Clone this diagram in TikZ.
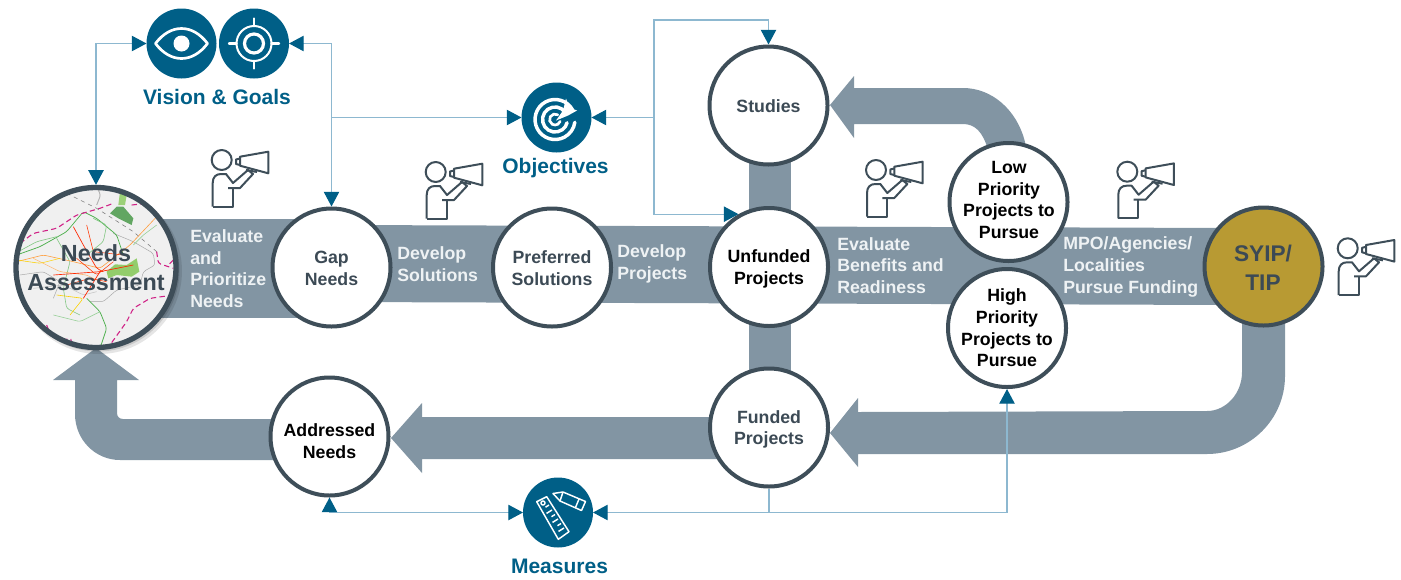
\documentclass[tikz,border=0pt]{standalone}
\usepackage{fontspec}
\setmainfont{Liberation Sans}
\usetikzlibrary{arrows.meta,backgrounds}
\definecolor{bandc}{HTML}{8295A3}
\definecolor{rimc}{HTML}{3E4E59}
\definecolor{bluec}{HTML}{005F87}
\definecolor{linec}{HTML}{8DB8D0}
\definecolor{goldc}{HTML}{B89A33}
\definecolor{darkt}{HTML}{3C4A55}
\definecolor{bandt}{HTML}{EEF2F4}
\tikzset{
  x=0.75pt,y=-0.75pt,
  hub/.style={circle,draw=rimc,line width=3pt,fill=white,minimum size=88.5pt,inner sep=0pt},
  ctext/.style={font=\fontsize{13.3}{16.2}\selectfont\bfseries,text=darkt,align=center,inner sep=0pt},
  ktext/.style={ctext,text=black},
  btext/.style={font=\fontsize{13.3}{16.2}\selectfont\bfseries,text=bandt,align=left,inner sep=0pt,anchor=west},
  icontitle/.style={font=\fontsize{15.75}{19}\selectfont\bfseries,text=bluec,inner sep=0pt},
  iconc/.style={circle,fill=bluec,minimum size=52.5pt,inner sep=0pt,outer sep=0pt},
  band/.style={fill=bandc,draw=none},
  conn/.style={draw=linec,line width=0.95pt},
  atip/.tip={Triangle[length=11pt,width=11.5pt,color=bluec,fill=bluec]},
  toend/.style={conn,-atip},
  twoend/.style={conn,atip-atip},
  spk/.style={draw=rimc,line width=1.5pt,line join=round,fill=none},
  iconw/.style={draw=white,fill=none,line cap=round},
  road/.style={line width=#1,rounded corners=2pt},
  bound/.style={magenta!85!black,line width=.8pt,dash pattern=on 4pt off 2.5pt,rounded corners=2pt},
}
\newcommand{\speaker}[2]{%
  \begin{scope}[shift={(#1,#2)},spk]
    \draw (221.7,160) circle[radius=10];
    \draw (240,156.7) -- (268.3,151.7) -- (268.3,173.3) -- (240,165.7) -- cycle;
    \draw (240,158.5) -- (236,159.5) -- (236,164) -- (240,165);
    \draw (212.7,206.7) -- (212.7,183) .. controls (212.7,177) and (216,174) .. (221,174)
      -- (226,174) -- (233,183) -- (248,170) -- (253,174) -- (240,188) -- (228,188);
    \draw (232.5,188) -- (232.5,206.7) -- (212.7,206.7);
    \draw (246,170) -- (257,172);
  \end{scope}}
\begin{document}
\begin{tikzpicture}
\useasboundingbox (0,0) rectangle (1401,579);
% nodes
\node[hub,minimum size=120pt,line width=4pt,fill=none,draw=none] (needs) at (96,267.5) {};
\node[hub,label={[ctext,yshift=-.75pt]center:Gap\\Needs}] (gap) at (331.5,267.5) {};
\node[hub,label={[ctext,yshift=-.5pt]center:Preferred\\Solutions}] (pref) at (552,267.5) {};
\node[hub,label={[ktext,yshift=-1.5pt]center:Unfunded\\Projects}] (unf) at (769,267) {};
\node[hub,label={[ctext,yshift=-.75pt]center:Studies}] (studies) at (768.5,105.5) {};
\node[hub,label={[ctext,yshift=-1.5pt]center:Funded\\Projects}] (funded) at (769,427.5) {};
\node[hub,label={[ktext,yshift=-3.5pt]center:Addressed\\Needs}] (addr) at (329.5,436.5) {};
\node[hub] (low) at (1008.5,202) {};
\node[ktext] (lowt) at (1009,200) {Low\\Priority\\Projects to\\Pursue};
\node[hub] (high) at (1007,328) {};
\node[ktext] (hight) at (1007,328) {High\\Priority\\Projects to\\Pursue};
\node[hub,fill=goldc] (syip) at (1263.5,266.5) {};
\node[ctext,font=\fontsize{17}{21.5}\selectfont\bfseries] (syipt) at (1263,267.5) {SYIP/\\TIP};
\node[iconc] (eye) at (181.5,43.5) {};
\node[iconc] (target) at (254,43.5) {};
\node[iconc] (obj) at (556.5,117.5) {};
\node[iconc] (meas) at (558,512.5) {};
% bands
\begin{pgfonlayer}{background}
\fill[band] (150,219) rectangle (300,318);
\fill[band] (340,225) -- (1230,228) -- (1230,305) -- (340,302) -- cycle;
\fill[band] (749,105) rectangle (791,430);
\fill[band] (1242,300) -- (1242,372) .. controls (1242,393.5) and (1226,411) .. (1207,411)
  -- (858,412) -- (858,398) -- (830,433) -- (858,467) -- (858,454) -- (1207,454)
  .. controls (1250,454) and (1285,419) .. (1285,376) -- (1285,300) -- cycle;
\fill[band] (750,417) -- (422,417) -- (422,403) -- (391,438) -- (422,473) -- (422,459) -- (750,459) -- cycle;
\fill[band] (300,419) -- (123,419) .. controls (119.5,419) and (117,416.5) .. (117,413)
  -- (117,380) -- (139,380) -- (96,348) -- (53,380) -- (75,380) -- (75,414)
  .. controls (75,439.5) and (95,460) .. (120,460) -- (300,460) -- cycle;
\fill[band] (1025,150) -- (1025,142) .. controls (1017,110) and (992,88) .. (963,88)
  -- (854,88) -- (854,76) -- (830,105) -- (854,138) -- (854,124) -- (963,124)
  .. controls (975,124) and (983,132) .. (988,150) -- cycle;
\end{pgfonlayer}
% needs map
\fill[black,opacity=.10] (99,271) circle[radius=83];
\fill[black,opacity=.12] (98,270) circle[radius=81.5];
\begin{scope}[shift={(0,175)},x=.25pt,y=-.25pt]
  \begin{scope}
  \clip (288,277) circle[radius=240];
  \fill[white!94!black] (288,277) circle[radius=245];
  \fill[green!45!black!85,opacity=.7] (350,95) -- (370,95) -- (400,130) -- (395,150) -- (355,130) -- (330,115) -- cycle;
  \fill[green!60!yellow!70!black,opacity=.5] (360,50) -- (380,60) -- (375,90) -- (355,90) -- cycle;
  \fill[green!60!yellow!70!black,opacity=.55] (320,290) -- (345,268) -- (380,270) -- (410,250) -- (418,290) -- (395,305) -- (350,300) -- (325,310) -- cycle;
  \draw[gray,line width=.45pt,dashed] (200,55) -- (290,100) -- (400,170) -- (470,230);
  \draw[gray!60,road=.7pt] (290,35) -- (302,60) -- (290,90);
  \draw[gray!70,road=.35pt] (340,175) -- (400,200) -- (460,235) -- (465,270) -- (430,290) -- (420,330) -- (350,345) -- (310,380) -- (270,380);
  \draw[gray!70,road=.35pt] (60,300) -- (130,290) -- (180,320) -- (160,370);
  \draw[gray!50,road=.35pt] (100,340) -- (190,330) -- (250,360) -- (290,350);
  \draw[green!55!black!70,road=.55pt] (50,240) -- (120,215) -- (200,170) -- (250,110) -- (290,130) -- (350,180) -- (370,240);
  \draw[green!55!black!70,road=.55pt] (260,370) -- (300,410) -- (320,460) -- (300,520);
  \draw[green!55!black!50,road=.45pt] (170,190) -- (210,260) -- (190,340) -- (200,400) -- (240,420);
  \draw[green!55!black!50,road=.45pt] (55,230) -- (110,200) -- (170,185);
  \draw[green!55!black!50,road=.45pt] (280,130) -- (320,150) -- (310,200) -- (260,240);
  \draw[green!55!black!40,road=.45pt] (160,420) -- (240,440) -- (300,410);
  \draw[green!55!black!40,road=.45pt] (400,210) -- (430,180) -- (470,150);
  \draw[orange!75,road=.45pt] (50,260) -- (130,240) -- (220,260) -- (300,280) -- (390,210) -- (470,125);
  \draw[orange!60,road=.4pt] (100,250) -- (180,290) -- (260,300) -- (320,330);
  \draw[yellow!70!orange,road=.45pt] (170,360) -- (250,370) -- (210,420);
  \draw[yellow!70!orange,road=.4pt] (50,255) -- (120,265) -- (180,250);
  \draw[red!70!orange,road=.5pt] (220,155) -- (250,210) -- (290,280) -- (310,290);
  \draw[red!70!orange,road=.5pt] (160,300) -- (300,290) -- (400,270);
  \draw[red!70!orange,road=.5pt] (300,290) -- (250,370);
  \draw[red!60!orange,road=.4pt] (260,150) -- (280,230) -- (370,240);
  \draw[red!60!orange,road=.4pt] (230,250) -- (290,300) -- (340,260);
  \draw[red!60!orange,road=.4pt] (200,330) -- (270,310) -- (320,320);
  \draw[bound] (60,205) -- (100,175) -- (170,160) -- (230,120) -- (300,100) -- (340,85);
  \draw[bound] (395,90) -- (440,85);
  \draw[bound] (470,230) -- (475,265) -- (520,280);
  \draw[bound] (520,255) -- (505,270);
  \draw[bound] (520,360) -- (450,370) -- (400,400) -- (380,440) -- (330,510) -- (290,530);
  \draw[bound] (140,450) -- (160,500) -- (215,490) -- (210,520);
  \end{scope}
\end{scope}
\draw[draw=rimc,line width=4pt] (needs.center) circle[radius=80];
\node[ctext,font=\fontsize{17.5}{21.5}\selectfont\bfseries] (needst) at (96,267.5) {Needs\\Assessment};
% eye
\begin{scope}[shift={(eye.center)},x=.75pt,y=.75pt]
  \draw[iconw,line width=2pt,line join=round] (-26,0) .. controls (-11,20) and (11,20) .. (26,0) .. controls (11,-20) and (-11,-20) .. (-26,0) -- cycle;
  \fill[white] (0,0) circle[radius=8];
\end{scope}
% target
\begin{scope}[shift={(target.center)},x=.75pt,y=.75pt]
  \draw[iconw,line width=1.5pt] (0,0) circle[radius=17.5];
  \draw[iconw,line width=2.4pt] (0,0) circle[radius=9.5];
  \foreach \a in {0,90,180,270} \draw[iconw,line width=1.8pt] (\a:17.5) -- (\a:25);
\end{scope}
% objectives icon
\begin{scope}[shift={(obj.center)},x=.75pt,y=.75pt,xshift=-1.1pt,yshift=-1.5pt]
  \draw[iconw,line width=2.6pt] (28:20) arc[start angle=28,end angle=352,radius=20];
  \draw[iconw,line width=2.6pt] (35:12.5) arc[start angle=35,end angle=345,radius=12.5];
  \draw[iconw,line width=2pt] (60:5.5) arc[start angle=60,end angle=340,radius=5.5];
  \fill[white] (1,-1) -- (8,9) -- (11,21) -- (14,12) -- (22,9) -- (13,4) -- cycle;
\end{scope}
% measures icon
\begin{scope}[line width=1.1pt]
  \draw[white,line join=round] (536.7,501.7) -- (546.7,496.7) -- (569,531.7) -- (558.3,539.3) -- cycle;
  \draw[white] (543,503) circle[radius=2];
  \draw[white] (549,505) -- (545.5,507.2);
  \draw[white] (552,510) -- (546.5,513.4);
  \draw[white] (555,514.5) -- (551.5,516.7);
  \draw[white] (558,519) -- (552.5,522.4);
  \draw[white] (561,523.5) -- (557.5,525.7);
  \draw[white] (564,528) -- (558.5,531.4);
  \draw[white,line join=round] (553,493.5) -- (563,492) -- (585.5,501.5) -- (581.5,510.5) -- (560,501) -- cycle;
  \draw[white] (563,492) -- (560,501);
  \draw[white] (579,499) -- (575.5,507.5);
\end{scope}
% connectors
\draw[twoend] (needs.north) |- (eye.west);
\draw[twoend] (target.east) -| (gap.north);
\coordinate (jgap) at (gap.north |- obj.west);
\draw[toend] (jgap) -- (obj.west);
\coordinate (jobj) at (654,117.5);
\coordinate (jtop) at (654,20);
\draw[toend] (jobj) -- (obj.east);
\draw[toend] (jobj) -- (jtop) -| (studies.north);
\draw[toend] (jobj) |- (unf.120);
\coordinate (jfun) at (funded.south |- meas.east);
\draw[conn] (funded.south) -- (jfun);
\draw[toend] (jfun) -- (meas.east);
\draw[toend] (jfun) -| (high.south);
\draw[twoend] (addr.south) |- (meas.west);
% band labels
\node[btext] (l1) at (190,268.5) {Evaluate\\and\\Prioritize\\Needs};
\node[btext] (l2) at (397,264) {Develop\\Solutions};
\node[btext] (l3) at (617,264) {Develop\\Projects};
\node[btext] (l4) at (837,265.5) {Evaluate\\Benefits and\\Readiness};
\node[btext] (l5) at (1063,267) {MPO/Agencies/\\Localities\\Pursue Funding};
% titles
\node[icontitle] (t1) at (217,97) {Vision \& Goals};
\node[icontitle] (t2) at (555.5,168.5) {Objectives};
\node[icontitle] (t3) at (559.5,566.5) {Measures};
% speakers
\speaker{0}{0}
\speaker{214}{12}
\speaker{654.3}{10}
\speaker{905.6}{11.7}
\speaker{1126}{88.3}
\end{tikzpicture}
\end{document}
